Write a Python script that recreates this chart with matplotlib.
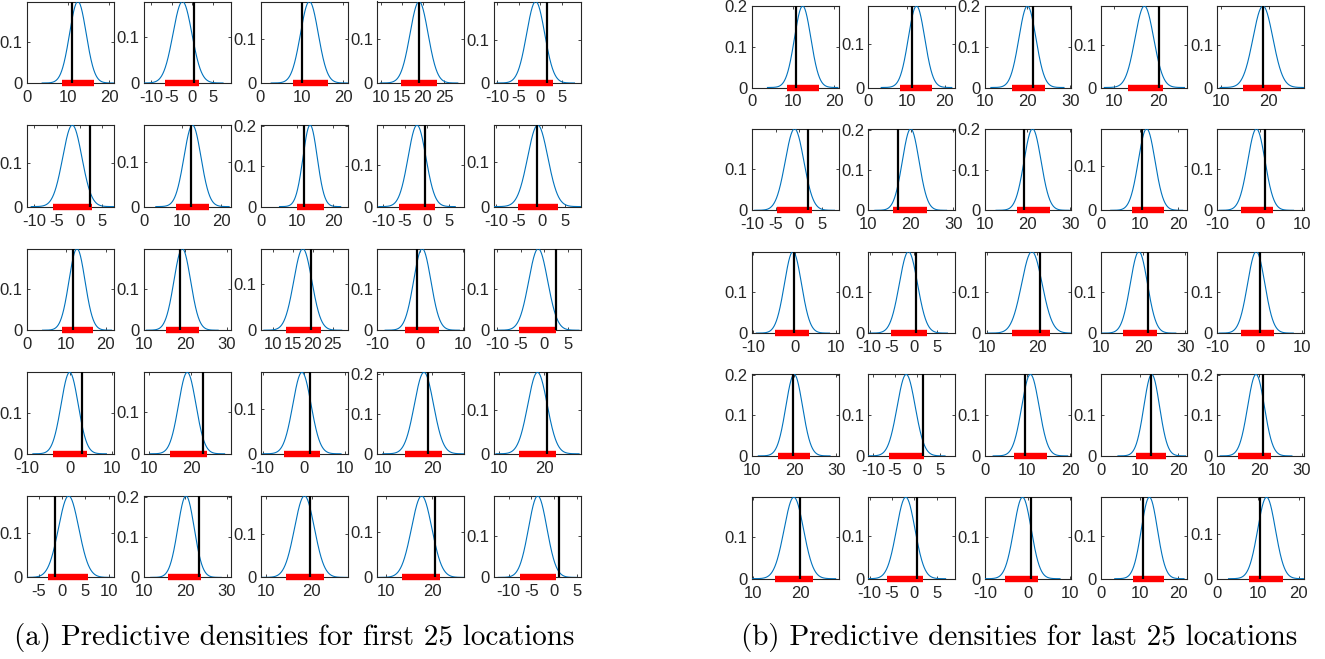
import numpy as np
import matplotlib
matplotlib.use("Agg")
import matplotlib.pyplot as plt
from matplotlib.ticker import MultipleLocator, FixedLocator, FormatStrFormatter

plt.rcParams['font.family'] = ['Liberation Sans Narrow', 'Liberation Sans', 'DejaVu Sans']
plt.rcParams['axes.unicode_minus'] = False

# ---- first 25 locations ----
mean_a = [12.4, -2.4, 11.8, 19.1, -1.1,
          -1.6, 12.6, 13.6, -2.3, -0.9,
          12.7, 19.3, 17.5, 0.5, -1.3,
          0.0, 19.1, -0.4, 18.3, 18.5,
          1.4, 20.2, 18.4, 17.7, -3.6]
peak_a = [0.197, 0.176, 0.186, 0.187, 0.190,
          0.189, 0.181, 0.2015, 0.198, 0.182,
          0.196, 0.198, 0.176, 0.198, 0.198,
          0.199, 0.194, 0.180, 0.205, 0.187,
          0.184, 0.2015, 0.186, 0.180, 0.198]
truth_a = [11.0, 0.4, 10.0, 19.1, 1.6,
           2.3, 12.2, 12.0, -0.4, -1.1,
           11.6, 18.7, 19.6, -0.7, 2.4,
           2.8, 22.9, 1.6, 19.2, 20.7,
           -1.5, 23.4, 19.6, 20.7, 1.0]
lo_a = [8.6, -6.7, 7.8, 14.8, -5.3,
        -5.9, 8.3, 10.0, -6.4, -5.1,
        8.9, 15.4, 13.2, -3.5, -5.4,
        -3.8, 14.9, -4.7, 14.4, 14.4,
        -3.0, 15.8, 14.4, 13.4, -7.4]
hi_a = [16.4, 1.6, 16.2, 23.4, 3.0,
        2.7, 16.8, 17.5, 1.7, 3.4,
        16.8, 23.4, 22.0, 4.5, 2.5,
        4.0, 23.7, 4.0, 22.0, 22.6,
        5.5, 23.8, 22.6, 21.8, 0.4]
xmin_a = [0.0, -11.7, 0.0, 9.2, -10.8,
          -11.6, 0.0, -0.2, -11.3, -10.4,
          0.0, 10.0, 6.9, -10.0, -10.7,
          -10.0, 8.8, -10.5, 8.8, 8.9,
          -7.5, 10.0, 8.9, 8.0, -13.2]
xmax_a = [21.2, 9.2, 21.0, 29.8, 9.45,
          7.6, 22.5, 24.0, 8.4, 8.5,
          22.1, 31.0, 28.7, 10.3, 7.8,
          10.4, 29.4, 10.7, 26.5, 28.1,
          11.1, 31.0, 27.7, 27.0, 5.9]
step_a = [10, 5, 10, 5, 5,
          5, 10, 10, 5, 5,
          10, 10, 5, 10, 5,
          10, 10, 10, 10, 10,
          5, 10, 10, 10, 5]

# ---- last 25 locations ----
mean_b = [12.3, 12.6, 20.0, 16.8, 18.8,
          -0.9, 20.0, 21.2, 11.8, -0.8,
          -0.4, -1.3, 18.9, 19.0, -0.8,
          20.0, -2.5, 10.7, 13.1, 19.2,
          18.6, -1.9, -1.2, 12.5, 12.1]
peak_b = [0.2008, 0.186, 0.201, 0.190, 0.190,
          0.199, 0.203, 0.201, 0.185, 0.197,
          0.196, 0.196, 0.196, 0.196, 0.196,
          0.2017, 0.197, 0.197, 0.197, 0.2017,
          0.195, 0.192, 0.195, 0.192, 0.184]
truth_b = [10.6, 11.4, 21.2, 20.2, 18.8,
           2.1, 16.9, 19.2, 10.5, 1.2,
           -0.2, 0.4, 20.5, 21.1, 0.2,
           19.7, 1.3, 9.5, 12.9, 20.8,
           20.0, 0.7, 0.8, 10.8, 10.6]
lo_b = [8.5, 8.3, 16.3, 13.0, 14.6,
        -4.7, 15.9, 17.5, 7.9, -4.5,
        -4.8, -5.3, 14.9, 15.3, -4.5,
        16.2, -6.3, 6.8, 9.0, 14.9,
        14.7, -6.0, -5.4, 8.4, 7.7]
hi_b = [16.2, 16.7, 24.2, 21.1, 22.6,
        2.9, 23.8, 25.3, 16.2, 3.1,
        3.4, 2.8, 22.5, 23.3, 3.3,
        23.8, 1.5, 14.6, 16.9, 22.8,
        22.6, 2.0, 2.5, 16.2, 16.2]
xmin_b = [0.0, 0.0, 10.0, 7.0, 9.15,
          -10.1, 10.0, 10.0, 0.0, -10.0,
          -10.2, -10.3, 9.5, 10.0, -10.0,
          10.0, -11.0, 0.0, 0.0, 10.0,
          9.8, -10.3, -10.1, 0.0, 0.0]
xmax_b = [21.0, 22.6, 30.2, 26.5, 27.4,
          8.6, 30.4, 30.2, 22.3, 10.3,
          10.5, 9.1, 26.7, 30.5, 10.4,
          30.5, 8.4, 20.2, 22.3, 30.5,
          28.0, 9.1, 10.2, 22.3, 21.2]
step_b = [10, 10, 10, 10, 10,
          5, 10, 10, 10, 10,
          10, 5, 10, 10, 10,
          10, 5, 10, 10, 10,
          10, 5, 10, 10, 10]

W, H = 1325, 659
fig = plt.figure(figsize=(W / 100, H / 100), dpi=100)
AX_COL = '#262626'


def add_ax(left, top, w, h):
    return fig.add_axes([left / W, 1 - (top + h) / H, w / W, h / H])


def draw_density(ax, mu, peak, truth, lo, hi, x0, x1, step):
    sd = 1.0 / (np.sqrt(2 * np.pi) * peak)
    x = np.linspace(mu - 4.3 * sd, mu + 4.3 * sd, 400)
    y = np.exp(-0.5 * ((x - mu) / sd) ** 2) / (np.sqrt(2 * np.pi) * sd)
    top = y.max()
    ax.plot([lo, hi], [0, 0], color='#ff0000', lw=4.6, solid_capstyle='butt',
            clip_on=False, zorder=3)
    ax.plot(x, y, color='#0072BD', lw=0.8, zorder=4)
    ax.plot([truth, truth], [0, top], color='black', lw=1.6, zorder=5)
    ax.set_xlim(x0, x1)
    ax.set_ylim(0, top)
    ax.xaxis.set_major_locator(MultipleLocator(step))
    ax.yaxis.set_major_locator(FixedLocator([0, 0.1, 0.2]))
    ax.xaxis.set_major_formatter(FormatStrFormatter('%g'))
    ax.yaxis.set_major_formatter(FormatStrFormatter('%g'))
    ax.tick_params(direction='in', length=2.5, width=0.6, colors=AX_COL,
                   labelsize=12, top=True, right=True)
    ax.tick_params(axis='x', pad=5)
    ax.tick_params(axis='y', pad=3)
    for s in ax.spines.values():
        s.set_color(AX_COL)
        s.set_linewidth(0.8)


# panel (a) grid
for i in range(25):
    r, c = divmod(i, 5)
    ax = add_ax(27 + c * 116.75, 1.5 + r * 123.6, 87, 81.5)
    draw_density(ax, mean_a[i], peak_a[i], truth_a[i], lo_a[i], hi_a[i],
                 xmin_a[i], xmax_a[i], step_a[i])

# panel (b) grid
for i in range(25):
    r, c = divmod(i, 5)
    ax = add_ax(752 + c * 116.3, 6 + r * 122.8, 86.5, 81.5)
    draw_density(ax, mean_b[i], peak_b[i], truth_b[i], lo_b[i], hi_b[i],
                 xmin_b[i], xmax_b[i], step_b[i])

cap_font = dict(family='cmr10', fontsize=21, ha='center', va='center', color='black')
fig.text(294 / W, 1 - 637 / H, '(a) Predictive densities for first 25 locations', **cap_font)
fig.text(1019 / W, 1 - 637 / H, '(b) Predictive densities for last 25 locations', **cap_font)

fig.savefig('out.png', dpi=100)
